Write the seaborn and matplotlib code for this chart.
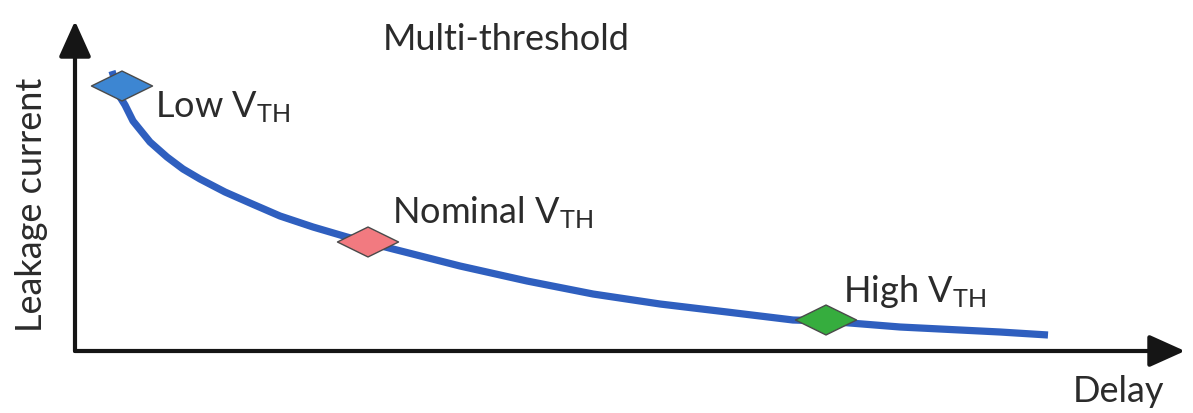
import numpy as np
import pandas as pd
import matplotlib
matplotlib.use("Agg")
import matplotlib.pyplot as plt
from matplotlib.path import Path
import seaborn as sns

# ------------------------
# Data (arbitrary units)
# ------------------------
delay = [0.37, 0.45, 0.50, 0.58, 0.75, 0.92, 1.08, 1.25, 1.50, 1.75, 2.05,
         2.38, 2.72, 2.95, 3.18, 3.85, 4.52, 5.18, 5.85, 6.52, 7.18, 7.50,
         8.25, 9.25, 9.73]
leakage = [2.80, 2.54, 2.46, 2.30, 2.09, 1.94, 1.82, 1.72, 1.59, 1.48, 1.35,
           1.24, 1.14, 1.08, 1.02, 0.85, 0.70, 0.57, 0.47, 0.39, 0.31, 0.30,
           0.24, 0.19, 0.16]

point_names = ["Low", "Nominal", "High"]
point_delay = [0.47, 2.93, 7.51]
point_leak = [2.65, 1.09, 0.31]
point_colors = ["#3d86d2", "#f27a80", "#36ad3e"]

label_x = [0.80, 3.17, 7.68]
label_y = [2.35, 1.29, 0.50]

# ------------------------
# Style
# ------------------------
sns.set_theme(style="white")
plt.rcParams["font.family"] = ["Lato", "DejaVu Sans"]
plt.rcParams["mathtext.fontset"] = "custom"
plt.rcParams["mathtext.rm"] = "Lato"
plt.rcParams["mathtext.it"] = "Lato"
txt_color = "#2b2b2b"
axis_color = "#151515"

fig = plt.figure(figsize=(11.93, 4.14), dpi=100)
W, H = 1193, 414
# axes origin at the corner of the two arrows
ax = fig.add_axes([75 / W, (H - 352) / H, (1185 - 75) / W, (352 - 22) / H])
ax.set_xlim(0, 11.1)
ax.set_ylim(0, 3.3)
ax.axis("off")

curve = pd.DataFrame({"delay": delay, "leakage": leakage})
sns.lineplot(data=curve, x="delay", y="leakage", sort=False, ax=ax,
             color="#2f5fbf", linewidth=5.2, solid_capstyle="butt",
             solid_joinstyle="round")

# flat diamond marker
diamond = Path([(-1, 0), (0, 0.49), (1, 0), (0, -0.49), (-1, 0)],
               [Path.MOVETO, Path.LINETO, Path.LINETO, Path.LINETO, Path.CLOSEPOLY])
pts = pd.DataFrame({"delay": point_delay, "leak": point_leak, "name": point_names})
sns.scatterplot(data=pts, x="delay", y="leak", hue="name", palette=point_colors,
                marker=diamond, s=44 ** 2, edgecolor="#4a4a4a", linewidth=1.0,
                legend=False, ax=ax, zorder=5)

# axes arrows
arrow = dict(arrowstyle="-|>,head_length=1.0,head_width=0.45", color=axis_color,
             lw=3, mutation_scale=22, shrinkA=0, shrinkB=0)
ax.annotate("", xy=(1.0, 0), xytext=(0, 0), xycoords="axes fraction",
            textcoords="axes fraction", arrowprops=arrow, annotation_clip=False)
ax.annotate("", xy=(0, 1.0), xytext=(0, 0), xycoords="axes fraction",
            textcoords="axes fraction", arrowprops=arrow, annotation_clip=False)

# labels
fs = 26
for name, lx, ly in zip(point_names, label_x, label_y):
    ax.text(lx, ly, name + r" V$_{\mathrm{TH}}$", fontsize=fs, color=txt_color,
            ha="left", va="baseline", clip_on=False)

ax.text(3.08, 3.02, "Multi-threshold", fontsize=fs, color=txt_color,
        ha="left", va="baseline", clip_on=False)
ax.text(9.98, -0.50, "Delay", fontsize=fs, color=txt_color,
        ha="left", va="baseline", clip_on=False)
ax.text(-0.43, 1.47, "Leakage current", fontsize=fs, color=txt_color,
        rotation=90, ha="center", va="center", clip_on=False)

fig.savefig("out.png", dpi=100, facecolor="white")
